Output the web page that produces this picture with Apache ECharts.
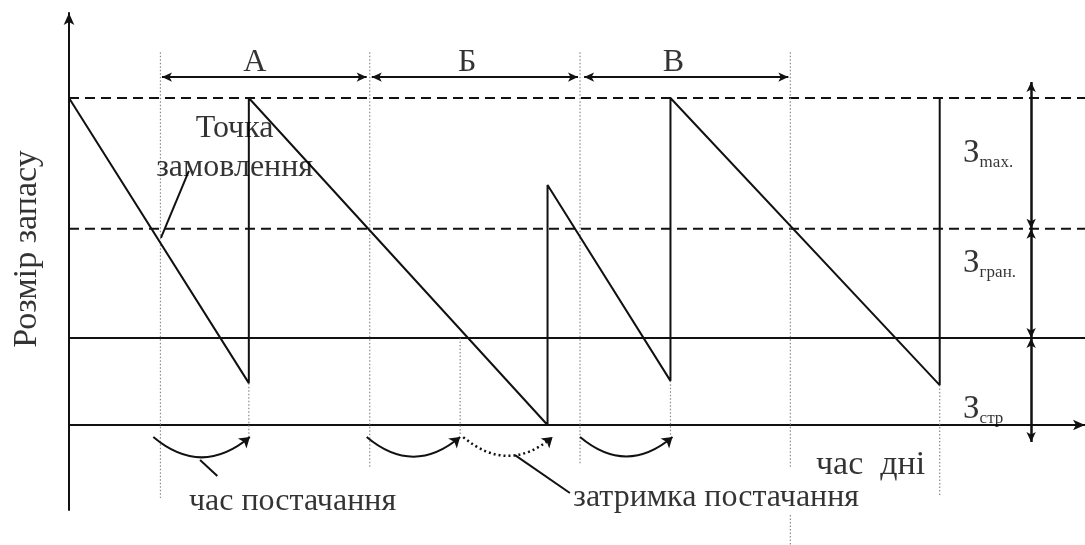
<!DOCTYPE html>
<html>
<head>
<meta charset="utf-8">
<script src="https://cdn.jsdelivr.net/npm/echarts@6/dist/echarts.min.js"></script>
<style>
    html, body {margin: 0; padding: 0; background: #fff;}
    #main {width: 1085px; height: 545px;}
</style>
</head>
<body>
<div id="main"></div>
<script>
// запас на складі (умовні одиниці), час (умовні дні)
var stockX = [0, 17.7, 17.7, 47.1, 47.1, 59.2, 59.2, 85.7, 85.7];
var stockY = [100, 12.8, 100, 0, 73.4, 13.5, 100, 12.2, 100];

var levelNames = ['max.', 'гран.', 'стр'];
var levelValues = [100, 60, 26.6];

var guideX = [9, 17.7, 29.6, 38.5, 50.3, 59.2, 71, 85.7];
var guideTop = [114, 12.8, 114, 26.6, 114, 13.5, 114, 12.2];
var guideBottom = [-22.3, -3.7, -12.9, -3, -11.8, -3.5, -13, -21.6];

var periodNames = ['А', 'Б', 'В'];
var periodFrom = [9.15, 29.8, 50.7];
var periodTo = [29.3, 50.1, 70.8];
var periodLevel = 106.4;

var deliveryFrom = [8.3, 29.3, 38.8, 50.3];
var deliveryTo = [17.8, 38.5, 47.6, 59.4];
var deliveryDelay = [false, false, true, false];

var ink = '#111';
var serif = '"Liberation Serif", "DejaVu Serif", serif';

var chartObj = function () {
    var segment = function (pts, style) {
        return {
            type: 'line',
            data: pts,
            symbol: 'none',
            silent: true,
            clip: false,
            animation: false,
            z: 3,
            lineStyle: style
        };
    };

    var text = function (x, y, str, extra) {
        var label = {
            show: true,
            position: 'inside',
            formatter: str,
            color: '#000',
            fontFamily: serif,
            fontSize: 32
        };
        for (var k in extra) {
            label[k] = extra[k];
        }
        return {value: [x, y], label: label};
    };

    // дуги часу постачання (звичайні або із затримкою)
    var arcSeries = function (delayed) {
        var arcs = [];
        for (var i = 0; i < deliveryFrom.length; i++) {
            if (deliveryDelay[i] !== delayed) continue;
            arcs.push({coords: [[deliveryFrom[i], -3.7], [deliveryTo[i], -3.7]]});
        }
        return {
            type: 'lines',
            coordinateSystem: 'cartesian2d',
            data: arcs,
            symbol: ['none', 'arrow'],
            symbolSize: [7, 10],
            silent: true,
            animation: false,
            z: 4,
            lineStyle: {
                color: ink,
                opacity: 1,
                curveness: -0.42,
                width: delayed ? 2.5 : 2,
                type: delayed ? [2, 3] : 'solid'
            }
        };
    };

    var buildSeries = function () {
        var series = [];
        var i;

        // рівні запасу
        series.push(segment([[0, levelValues[0]], [100, levelValues[0]]], {color: ink, width: 2, type: [10, 6]}));
        series.push(segment([[0, levelValues[1]], [100, levelValues[1]]], {color: ink, width: 2, type: [10, 6]}));
        series.push(segment([[0, levelValues[2]], [100, levelValues[2]]], {color: ink, width: 2}));

        // допоміжні вертикалі
        for (i = 0; i < guideX.length; i++) {
            series.push(segment([[guideX[i], guideTop[i]], [guideX[i], guideBottom[i]]],
                {color: '#8a8a8a', width: 1.2, type: [1.5, 2]}));
        }
        series.push(segment([[71, -27.5], [71, -37]], {color: '#8a8a8a', width: 1.2, type: [1.5, 2]}));

        // покажчики
        series.push(segment([[9.05, 57.2], [11.8, 77.7]], {color: ink, width: 2}));
        series.push(segment([[12.9, -10.7], [14.6, -15.6]], {color: ink, width: 2}));
        series.push(segment([[43.9, -9.2], [49.3, -20.8]], {color: ink, width: 2}));

        series.push(arcSeries(false));
        series.push(arcSeries(true));

        // стрілки періодів та рівнів
        var marks = [];
        for (i = 0; i < periodNames.length; i++) {
            marks.push([
                {coord: [periodFrom[i], periodLevel], symbol: 'arrow'},
                {coord: [periodTo[i], periodLevel], symbol: 'arrow'}
            ]);
        }
        var rightArrow = [104.9, 60, 26.6, -5.2];
        for (i = 0; i < rightArrow.length - 1; i++) {
            marks.push([
                {coord: [94.7, rightArrow[i]], symbol: 'arrow', lineStyle: {width: 2.5}},
                {coord: [94.7, rightArrow[i + 1]], symbol: 'arrow'}
            ]);
        }

        // динаміка запасу
        series.push({
            type: 'line',
            data: stockX.map(function (x, j) { return [x, stockY[j]]; }),
            symbol: 'none',
            clip: false,
            silent: true,
            animation: false,
            z: 4,
            lineStyle: {color: ink, width: 2},
            markLine: {
                silent: true,
                animation: false,
                symbolSize: [7, 10],
                label: {show: false},
                lineStyle: {color: ink, width: 2, type: 'solid'},
                emphasis: {disabled: true},
                data: marks
            }
        });

        // підписи
        var zRich = {
            b: {fontFamily: serif, fontSize: 33, lineHeight: 36, color: '#000'},
            s: {fontFamily: serif, fontSize: 17, lineHeight: 16, color: '#000', verticalAlign: 'bottom'}
        };
        var labels = [
            text(16.3, 84.8, 'Точка\nзамовлення', {lineHeight: 39}),
            text(18.3, 110.7, periodNames[0]),
            text(39.2, 110.7, periodNames[1]),
            text(59.5, 110.7, periodNames[2]),
            text(22.0, -23.5, 'час постачання'),
            text(63.7, -22.3, 'затримка постачання'),
            text(78.9, -12.2, 'час  дні', {fontSize: 34}),
            text(-4.13, 53.8, 'Розмір запасу', {rotate: 90, fontSize: 34}),
            text(88, 83.2, '{b|З}{s|' + levelNames[0] + '}', {position: 'right', distance: 0, rich: zRich}),
            text(88, 49.5, '{b|З}{s|' + levelNames[1] + '}', {position: 'right', distance: 0, rich: zRich}),
            text(88, 4.9, '{b|З}{s|' + levelNames[2] + '}', {position: 'right', distance: 0, rich: zRich})
        ];
        series.push({
            type: 'scatter',
            data: labels,
            symbolSize: 0,
            clip: false,
            silent: true,
            animation: false,
            z: 5
        });
        return series;
    };

    var initChart = function () {
        var dom = document.getElementById('main');
        var myChart = echarts.init(dom, null, {renderer: 'canvas'});
        var axisLine = {
            show: true,
            onZero: true,
            symbol: ['none', 'arrow'],
            symbolSize: [8, 12],
            lineStyle: {color: ink, width: 2}
        };
        var option = {
            backgroundColor: '#fff',
            animation: false,
            grid: {left: 69, right: 0, top: 13, bottom: 35},
            xAxis: {
                type: 'value', min: 0, max: 100,
                axisLine: axisLine,
                axisTick: {show: false},
                axisLabel: {show: false},
                splitLine: {show: false}
            },
            yAxis: {
                type: 'value', min: -26, max: 126,
                axisLine: axisLine,
                axisTick: {show: false},
                axisLabel: {show: false},
                splitLine: {show: false}
            },
            series: buildSeries()
        };
        myChart.setOption(option, true);
    };

    return {
        init: function () {
            initChart();
        }
    };
}();

chartObj.init();
</script>
</body>
</html>
